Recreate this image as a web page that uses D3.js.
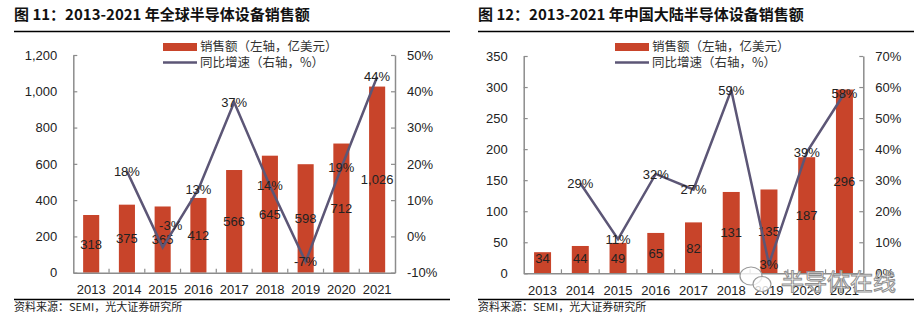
<!DOCTYPE html>
<html>
<head>
<meta charset="utf-8">
<script src="https://cdn.jsdelivr.net/npm/d3@7"></script>
<style>
	body { margin: 0; background: #fff; }
	svg text { font-family: "Liberation Sans", Arial, sans-serif; }
	.cjk { font-family: "Noto Sans CJK SC", sans-serif !important; }
</style>
</head>
<body>
<svg id="chart" width="924" height="324"></svg>
<script>
// data
var years = ['2013', '2014', '2015', '2016', '2017', '2018', '2019', '2020', '2021'];
var globalSales = [318, 375, 365, 412, 566, 645, 598, 712, 1026];
var globalGrowth = [null, 18, -3, 13, 37, 14, -7, 19, 44];
var chinaSales = [34, 44, 49, 65, 82, 131, 135, 187, 296];
var chinaGrowth = [null, 29, 11, 32, 27, 59, 3, 39, 58];
var globalLeftTicks = [0, 200, 400, 600, 800, 1000, 1200];
var globalRightTicks = [-10, 0, 10, 20, 30, 40, 50];
var chinaLeftTicks = [0, 50, 100, 150, 200, 250, 300, 350];
var chinaRightTicks = [0, 10, 20, 30, 40, 50, 60, 70];
var legendBar = '销售额（左轴，亿美元）';
var legendLine = '同比增速（右轴，%）';
var source = '资料来源：SEMI，光大证券研究所';

var barColor = '#c8442a';
var lineColor = '#5c5676';
var axisColor = '#8c8c8c';

var svg = d3.select('#chart');

function drawChart(cfg) {
	var g = svg.append('g');

	// title + rules
	g.append('text')
		.attr('class', 'cjk')
		.attr('x', cfg.left)
		.attr('y', 20)
		.attr('font-size', '15px')
		.attr('font-weight', 'bold')
		.attr('fill', '#111')
		.text(cfg.title);
	g.append('line')
		.attr('x1', cfg.left).attr('x2', cfg.right)
		.attr('y1', 31.5).attr('y2', 31.5)
		.attr('stroke', '#000').attr('stroke-width', 1.5);
	g.append('line')
		.attr('x1', cfg.left).attr('x2', cfg.right)
		.attr('y1', 299.5).attr('y2', 299.5)
		.attr('stroke', '#000').attr('stroke-width', 1.5);
	g.append('text')
		.attr('class', 'cjk')
		.attr('x', cfg.left)
		.attr('y', 311)
		.attr('font-size', '11px')
		.attr('fill', '#222')
		.text(source);

	// scales
	var x = d3.scaleBand().domain(years).range([cfg.x0, cfg.x1]).paddingInner(0.55).paddingOuter(0.275);
	var xb = d3.scaleBand().domain(years).range([cfg.x0, cfg.x1]);
	var yL = d3.scaleLinear().domain(d3.extent(cfg.leftTicks)).range([cfg.yBottom, cfg.yTop]);
	var yR = d3.scaleLinear().domain(d3.extent(cfg.rightTicks)).range([cfg.yBottom, cfg.yTop]);

	// bars
	g.selectAll('rect.bar')
		.data(cfg.sales)
		.enter()
		.append('rect')
		.attr('class', 'bar')
		.attr('x', function(d, i) { return x(years[i]); })
		.attr('width', x.bandwidth())
		.attr('y', function(d) { return yL(d); })
		.attr('height', function(d) { return yL(0) - yL(d); })
		.attr('fill', barColor);

	// axes
	var leftAxis = d3.axisLeft(yL).tickValues(cfg.leftTicks).tickSizeInner(-4).tickSizeOuter(0)
		.tickPadding(16).tickFormat(d3.format(','));
	var rightAxis = d3.axisRight(yR).tickValues(cfg.rightTicks).tickSizeInner(-4).tickSizeOuter(0)
		.tickPadding(12).tickFormat(function(d) { return d + '%'; });
	var bottomAxis = d3.axisBottom(xb).tickSize(0).tickPadding(10);

	function styleAxis(sel) {
		sel.select('.domain').attr('stroke', axisColor).attr('stroke-width', 1.5);
		sel.selectAll('.tick line').attr('stroke', axisColor).attr('stroke-width', 1.2);
		sel.selectAll('.tick text').attr('font-size', '13px').attr('fill', '#222')
			.style('font-family', '"Liberation Sans", Arial, sans-serif');
	}

	g.append('g').attr('transform', 'translate(' + cfg.x0 + ',0)').call(leftAxis).call(styleAxis);
	g.append('g').attr('transform', 'translate(' + cfg.x1 + ',0)').call(rightAxis).call(styleAxis);
	var bx = g.append('g').attr('transform', 'translate(0,' + cfg.yBottom + ')').call(bottomAxis).call(styleAxis);
	bx.selectAll('.tick text').attr('dy', '0.9em');

	// x category boundary ticks (pointing up)
	g.selectAll('line.xt')
		.data(years.slice(1))
		.enter()
		.append('line')
		.attr('x1', function(d) { return xb(d); })
		.attr('x2', function(d) { return xb(d); })
		.attr('y1', cfg.yBottom).attr('y2', cfg.yBottom - 4)
		.attr('stroke', axisColor).attr('stroke-width', 1.2);

	// bar value labels
	g.selectAll('text.bv')
		.data(cfg.sales)
		.enter()
		.append('text')
		.attr('class', 'bv')
		.attr('x', function(d, i) { return xb(years[i]) + xb.bandwidth() / 2; })
		.attr('y', function(d) { return Math.min((yL(d) + yL(0)) / 2, cfg.yBottom - 15); })
		.attr('dy', '0.36em')
		.attr('text-anchor', 'middle')
		.attr('font-size', '13px')
		.attr('fill', '#222')
		.text(d3.format(','));

	// growth line
	var pts = cfg.growth.map(function(v, i) { return { year: years[i], v: v }; })
		.filter(function(d) { return d.v !== null; });
	var line = d3.line()
		.x(function(d) { return xb(d.year) + xb.bandwidth() / 2; })
		.y(function(d) { return yR(d.v); });
	g.append('path')
		.datum(pts)
		.attr('d', line)
		.attr('fill', 'none')
		.attr('stroke', lineColor)
		.attr('stroke-width', 2.5)
		.attr('stroke-linejoin', 'miter');

	g.selectAll('text.gv')
		.data(pts)
		.enter()
		.append('text')
		.attr('class', 'gv')
		.attr('x', function(d) { return xb(d.year) + xb.bandwidth() / 2 + ((cfg.labelShift[d.year] || [0, 0])[0]); })
		.attr('y', function(d) { return yR(d.v) + ((cfg.labelShift[d.year] || [0, 0])[1]); })
		.attr('dy', '0.36em')
		.attr('text-anchor', 'middle')
		.attr('font-size', '13px')
		.attr('fill', '#222')
		.text(function(d) { return d.v + '%'; });

	// legend
	var lg = g.append('g').attr('transform', 'translate(' + cfg.legendX + ',0)');
	lg.append('rect').attr('x', 0).attr('y', 43).attr('width', 34).attr('height', 8).attr('fill', barColor);
	lg.append('line').attr('x1', 0).attr('x2', 34).attr('y1', 62.5).attr('y2', 62.5)
		.attr('stroke', lineColor).attr('stroke-width', 2.5);
	lg.append('text').attr('class', 'cjk').attr('x', 37).attr('y', 47).attr('dy', '0.35em')
		.attr('font-size', '12.5px').attr('fill', '#333').text(legendBar);
	lg.append('text').attr('class', 'cjk').attr('x', 37).attr('y', 63).attr('dy', '0.35em')
		.attr('font-size', '12.5px').attr('fill', '#333').text(legendLine);
}

drawChart({
	title: '图 11：2013-2021 年全球半导体设备销售额',
	left: 14, right: 450,
	x0: 73.3, x1: 395, yTop: 55, yBottom: 272.7,
	sales: globalSales, growth: globalGrowth,
	leftTicks: globalLeftTicks, rightTicks: globalRightTicks,
	legendX: 163,
	labelShift: { '2015': [8, -22] }
});

drawChart({
	title: '图 12：2013-2021 年中国大陆半导体设备销售额',
	left: 478, right: 914,
	x0: 523.7, x1: 863.3, yTop: 56, yBottom: 273.3,
	sales: chinaSales, growth: chinaGrowth,
	leftTicks: chinaLeftTicks, rightTicks: chinaRightTicks,
	legendX: 615,
	labelShift: {}
});

// watermark
var wm = svg.append('g');
wm.append('ellipse').attr('cx', 751).attr('cy', 276).attr('rx', 11).attr('ry', 9)
	.attr('fill', 'rgba(255,255,255,0.8)').attr('stroke', '#9a9a9a').attr('stroke-width', 1.2);
wm.append('ellipse').attr('cx', 762).attr('cy', 284).attr('rx', 9).attr('ry', 7.5)
	.attr('fill', 'rgba(255,255,255,0.8)').attr('stroke', '#9a9a9a').attr('stroke-width', 1.2);
wm.append('text')
	.attr('class', 'cjk')
	.attr('x', 781).attr('y', 282).attr('dy', '0.36em')
	.attr('font-size', '23px')
	.attr('fill', 'rgba(255,255,255,0.85)')
	.attr('stroke', '#8f8f8f').attr('stroke-width', 1)
	.text('半导体在线');
</script>
</body>
</html>
